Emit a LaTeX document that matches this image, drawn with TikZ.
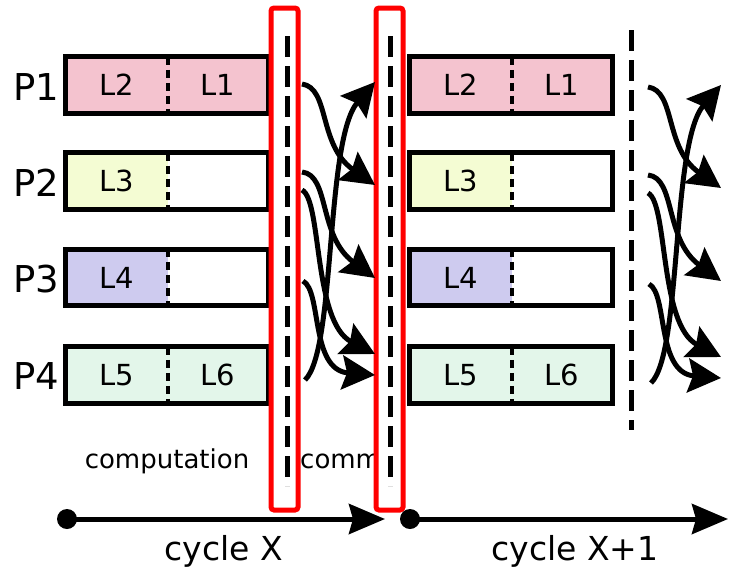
\documentclass[tikz,border=0pt]{standalone}
\usepackage{fontspec}
\setmainfont{DejaVu Sans}
\usetikzlibrary{arrows.meta}
\definecolor{cpink}{HTML}{F4C3CF}
\definecolor{cyel}{HTML}{F4FCD3}
\definecolor{clav}{HTML}{CECBEF}
\definecolor{cmint}{HTML}{E3F6EA}
\definecolor{cred}{HTML}{FF0000}
\begin{document}
\begin{tikzpicture}[x=1pt,y=-1pt,
  cellL/.style={minimum width=102pt,minimum height=56pt,inner sep=0pt,font=\fontsize{29}{29}\selectfont},
  cellR/.style={minimum width=100pt,minimum height=56pt,inner sep=0pt,font=\fontsize{29}{29}\selectfont},
  plabel/.style={font=\fontsize{37}{37}\selectfont,inner sep=0pt},
  boxline/.style={line width=5pt},
  divider/.style={line width=4pt,dash pattern=on 8pt off 5pt},
  sepline/.style={line width=5pt,dash pattern=on 21pt off 9pt},
  redbox/.style={line width=5pt,draw=cred,fill=white,rounded corners=3pt},
  flow/.style={line width=5pt,-{Stealth[length=33pt,width=34pt,inset=5pt]}},
  timeline/.style={line width=5pt,-{Stealth[length=36pt,width=30pt,inset=4pt]}},
  lbl/.style={font=\fontsize{26}{26}\selectfont,inner sep=0pt}
]
\useasboundingbox (0,0) rectangle (730,568);

% process labels
\node[plabel] (p1) at (36,87) {P1};
\node[plabel] (p2) at (36,183) {P2};
\node[plabel] (p3) at (36,279) {P3};
\node[plabel] (p4) at (36,376) {P4};

% column 1 and column 2 boxes
\foreach \cx/\tag in {0/a,344/b}{
  \node[cellL,fill=cpink] (\tag1L) at (117+\cx,85) {L2};
  \node[cellR,fill=cpink] (\tag1R) at (218+\cx,85) {L1};
  \node[cellL,fill=cyel]  (\tag2L) at (117+\cx,181) {L3};
  \node[cellR,fill=white] (\tag2R) at (218+\cx,181) {};
  \node[cellL,fill=clav]  (\tag3L) at (117+\cx,277.5) {L4};
  \node[cellR,fill=white] (\tag3R) at (218+\cx,277.5) {};
  \node[cellL,fill=cmint] (\tag4L) at (117+\cx,375) {L5};
  \node[cellR,fill=cmint] (\tag4R) at (218+\cx,375) {L6};
  \foreach \r in {1,2,3,4}{
    \draw[boxline] (\tag\r L.north west) rectangle (\tag\r R.south east);
    \draw[divider] (\tag\r L.north east) -- (\tag\r L.south east);
  }
}

% texts
\node[lbl,anchor=base] (tcomp) at (167,468) {computation};
\node[lbl,anchor=base west] (tcomm) at (300,468) {comm};

% red boxes (white filled) with separators
\node[redbox,minimum width=27pt,minimum height=502pt,inner sep=0pt] (rb1) at (284.5,259) {};
\node[redbox,minimum width=27pt,minimum height=502pt,inner sep=0pt] (rb2) at (389.5,259) {};
\coordinate (s1t) at (287,36); \coordinate (s1b) at (287,486);
\coordinate (s2t) at (390,36); \coordinate (s2b) at (390,486);
\coordinate (s3t) at (631,30); \coordinate (s3b) at (631,430);
\draw[sepline] (s1t) -- (s1b);
\draw[sepline] (s2t) -- (s2b);
\draw[sepline] (s3t) -- (s3b);

% communication arrows
\foreach \dx/\dy/\tag in {0/0/c,346/3/d}{
  \begin{scope}[xshift=\dx pt,yshift=-\dy pt]
    \coordinate (\tag s1) at (302,84);  \coordinate (\tag e1) at (375,185);
    \coordinate (\tag s2) at (305,380); \coordinate (\tag e2) at (375,82);
    \coordinate (\tag s3) at (302,172); \coordinate (\tag e3) at (375,278);
    \coordinate (\tag s4) at (302,190); \coordinate (\tag e4) at (375,354);
    \coordinate (\tag s5) at (303,281); \coordinate (\tag e5) at (375,375);
    \draw[flow] (\tag s1) .. controls (330,88) and (318,145) .. (\tag e1);
    \draw[flow] (\tag s3) .. controls (330,175) and (318,236) .. (\tag e3);
    \draw[flow] (\tag s4) .. controls (322,200) and (313,322) .. (\tag e4);
    \draw[flow] (\tag s5) .. controls (322,291) and (310,370) .. (\tag e5);
    \draw[flow] (\tag s2) .. controls (336,350) and (325,140) .. (\tag e2);
  \end{scope}
}

% timeline
\coordinate (t1s) at (67,519); \coordinate (t1e) at (385,519);
\coordinate (t2s) at (410,519); \coordinate (t2e) at (728,519);
\fill (t1s) circle (10pt);
\fill (t2s) circle (10pt);
\draw[timeline] (t1s) -- (t1e);
\draw[timeline] (t2s) -- (t2e);
\node[font=\fontsize{33}{33}\selectfont,inner sep=0pt,anchor=base] (c1) at (224,560) {cycle X};
\node[font=\fontsize{33}{33}\selectfont,inner sep=0pt,anchor=base] (c2) at (575,560) {cycle X+1};
\end{tikzpicture}
\end{document}
